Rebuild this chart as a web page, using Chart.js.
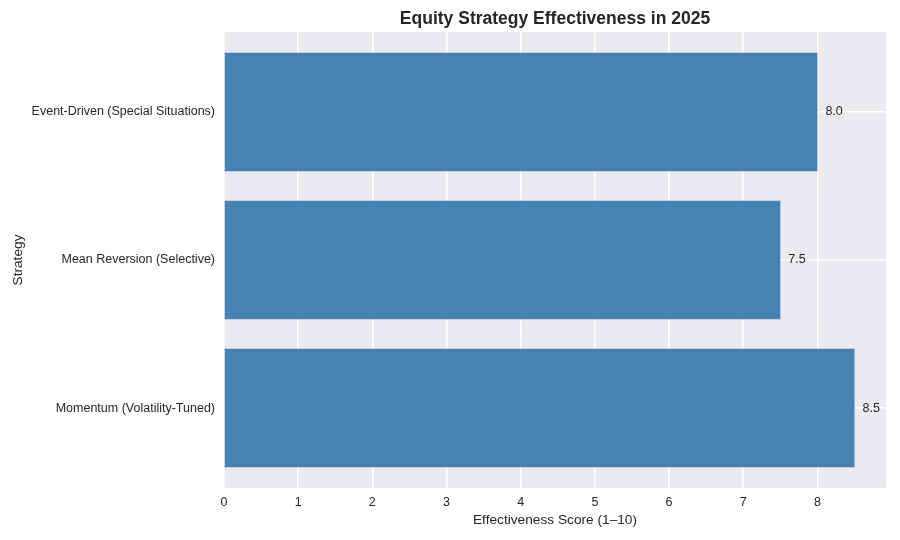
<!DOCTYPE html>
<html>
<head>
<meta charset="utf-8">
<script src="https://cdn.jsdelivr.net/npm/chart.js@4.4.1/dist/chart.umd.min.js"></script>
<style>
  html, body { margin: 0; padding: 0; background: #fff; }
  #wrap { width: 900px; height: 540px; }
</style>
</head>
<body>
<div id="wrap"><canvas id="chart" width="900" height="540"></canvas></div>
<script>
const strategies = ['Event-Driven (Special Situations)', 'Mean Reversion (Selective)', 'Momentum (Volatility-Tuned)'];
const scores = [8.0, 7.5, 8.5];
const scoreTicks = [0, 1, 2, 3, 4, 5, 6, 7, 8];

const chartTitle = 'Equity Strategy Effectiveness in 2025';
const font = 'Liberation Sans, Arial, sans-serif';
const textColor = '#262626';

// matplotlib-ish margins around the bars
const xMax = Math.max(...scores) * 1.05;

const decor = {
  id: 'decor',
  beforeDraw(chart) {
    const { ctx, chartArea: a } = chart;
    ctx.save();
    ctx.fillStyle = '#EAEAF2';
    ctx.fillRect(a.left, a.top, a.right - a.left, a.bottom - a.top);
    ctx.restore();
  },
  afterDraw(chart) {
    const { ctx, chartArea: a, scales } = chart;
    ctx.save();
    ctx.fillStyle = textColor;
    ctx.font = 'bold 17.5px ' + font;
    ctx.textAlign = 'center';
    ctx.textBaseline = 'middle';
    ctx.fillText(chartTitle, (a.left + a.right) / 2, 19);

    ctx.font = '12.5px ' + font;
    ctx.textAlign = 'left';
    scores.forEach((v, i) => {
      ctx.fillText(v.toFixed(1), scales.x.getPixelForValue(v) + 8, scales.y.getPixelForValue(i));
    });
    ctx.restore();
  }
};

new Chart(document.getElementById('chart'), {
  type: 'bar',
  data: {
    datasets: [{
      data: scores.map((v, i) => ({ x: v, y: i })),
      backgroundColor: '#4682B4',
      borderWidth: 0,
      categoryPercentage: 0.8,
      barPercentage: 1.0
    }]
  },
  options: {
    indexAxis: 'y',
    responsive: false,
    animation: false,
    events: [],
    layout: { padding: { top: 32, right: 14, left: 0, bottom: 12 } },
    plugins: { legend: { display: false }, tooltip: { enabled: false } },
    scales: {
      x: {
        type: 'linear',
        min: 0,
        max: xMax,
        afterBuildTicks: s => { s.ticks = scoreTicks.map(v => ({ value: v })); },
        afterFit: s => { s.height = 40; },
        grid: { color: '#ffffff', lineWidth: 1.5, drawTicks: false },
        border: { display: false },
        ticks: { color: textColor, font: { family: font, size: 12.5 }, padding: 7, maxRotation: 0 },
        title: { display: true, text: 'Effectiveness Score (1–10)', color: textColor, font: { family: font, size: 13.7 }, padding: { top: 2, bottom: 0 } }
      },
      y: {
        type: 'linear',
        reverse: true,
        offset: false,
        min: -0.54,
        max: strategies.length - 1 + 0.54,
        afterBuildTicks: s => { s.ticks = strategies.map((c, i) => ({ value: i })); },
        afterFit: s => { s.width = 224; },
        grid: { color: '#ffffff', lineWidth: 1.5, drawTicks: false, offset: false },
        border: { display: false },
        ticks: {
          color: textColor, font: { family: font, size: 12.5 }, padding: 9,
          callback: v => strategies[v]
        },
        title: { display: true, text: 'Strategy', color: textColor, font: { family: font, size: 13.7 }, padding: { top: 10, bottom: 0 } }
      }
    }
  },
  plugins: [decor]
});
</script>
</body>
</html>
